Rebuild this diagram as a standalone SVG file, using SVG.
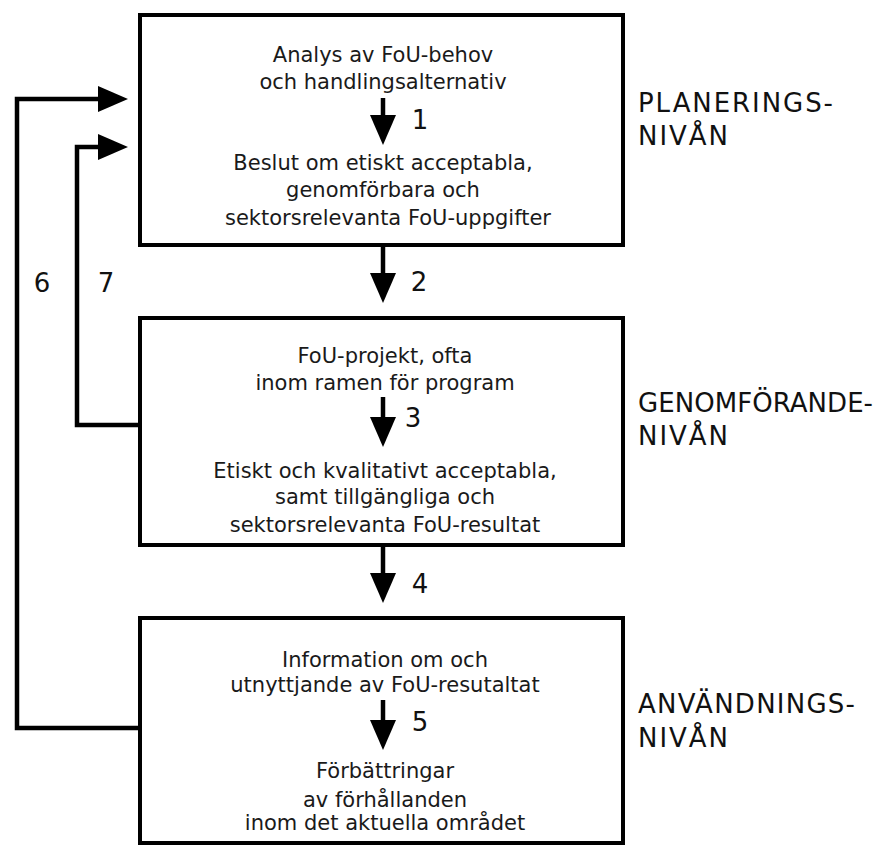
<svg xmlns="http://www.w3.org/2000/svg" width="890" height="845" viewBox="0 0 890 845">
  <style>
    .box { fill: #fff; stroke: #000; stroke-width: 4; }
    .t { font-family: "DejaVu Sans", "Liberation Sans", sans-serif; font-size: 21px; fill: #1a1a1a; text-anchor: middle; }
    .num { font-family: "DejaVu Sans", "Liberation Sans", sans-serif; font-size: 26px; fill: #111; text-anchor: middle; }
    .lvl { font-family: "DejaVu Sans", "Liberation Sans", sans-serif; font-size: 26px; fill: #111; }
    .ln { fill: none; stroke: #000; stroke-width: 4.5; stroke-linejoin: miter; }
  </style>
  <defs>
    <marker id="ah" markerUnits="userSpaceOnUse" markerWidth="30" markerHeight="26" refX="5" refY="13" orient="auto" viewBox="0 0 30 26">
      <path d="M0,0 L30,13 L0,26 z" fill="#000"/>
    </marker>
  </defs>
  <rect width="890" height="845" fill="#fff"/>

  <g id="box-planering">
    <rect class="box" x="140" y="15" width="483" height="230"/>
    <text class="t" x="383" y="62">Analys av FoU-behov</text>
    <text class="t" x="383" y="89">och handlingsalternativ</text>
    <text class="t" x="383" y="170">Beslut om etiskt acceptabla,</text>
    <text class="t" x="383" y="197">genomförbara och</text>
    <text class="t" x="388" y="225">sektorsrelevanta FoU-uppgifter</text>
  </g>

  <g id="box-genomforande">
    <rect class="box" x="140" y="318" width="483" height="227"/>
    <text class="t" x="385" y="363">FoU-projekt, ofta</text>
    <text class="t" x="385" y="390">inom ramen för program</text>
    <text class="t" x="385" y="478">Etiskt och kvalitativt acceptabla,</text>
    <text class="t" x="385" y="504">samt tillgängliga och</text>
    <text class="t" x="385" y="532">sektorsrelevanta FoU-resultat</text>
  </g>

  <g id="box-anvandning">
    <rect class="box" x="140" y="618" width="483" height="225"/>
    <text class="t" x="385" y="667">Information om och</text>
    <text class="t" x="385" y="692">utnyttjande av FoU-resutaltat</text>
    <text class="t" x="385" y="778">Förbättringar</text>
    <text class="t" x="385" y="807">av förhållanden</text>
    <text class="t" x="385" y="830">inom det aktuella området</text>
  </g>

  <g id="level-planering">
    <text class="lvl" x="638" y="112" textLength="195" lengthAdjust="spacing">PLANERINGS-</text>
    <text class="lvl" x="638" y="145" textLength="90" lengthAdjust="spacing">NIVÅN</text>
  </g>
  <g id="level-genomforande">
    <text class="lvl" x="638" y="412" textLength="235" lengthAdjust="spacing">GENOMFÖRANDE-</text>
    <text class="lvl" x="638" y="445" textLength="90" lengthAdjust="spacing">NIVÅN</text>
  </g>
  <g id="level-anvandning">
    <text class="lvl" x="638" y="713" textLength="217" lengthAdjust="spacing">ANVÄNDNINGS-</text>
    <text class="lvl" x="638" y="747" textLength="90" lengthAdjust="spacing">NIVÅN</text>
  </g>

  <g id="connectors">
    <path class="ln" d="M383,98 V120" marker-end="url(#ah)"/>
    <path class="ln" d="M383,245 V278" marker-end="url(#ah)"/>
    <path class="ln" d="M383,397 V422" marker-end="url(#ah)"/>
    <path class="ln" d="M383,545 V578" marker-end="url(#ah)"/>
    <path class="ln" d="M383,700 V725" marker-end="url(#ah)"/>
    <path class="ln" d="M140,728 H17 V99 H103" marker-end="url(#ah)"/>
    <path class="ln" d="M140,425 H77 V147 H103" marker-end="url(#ah)"/>
    <text class="num" x="420" y="129">1</text>
    <text class="num" x="419" y="291">2</text>
    <text class="num" x="413" y="427">3</text>
    <text class="num" x="420" y="593">4</text>
    <text class="num" x="420" y="731">5</text>
    <text class="num" x="42" y="292">6</text>
    <text class="num" x="106" y="292">7</text>
  </g>
</svg>
